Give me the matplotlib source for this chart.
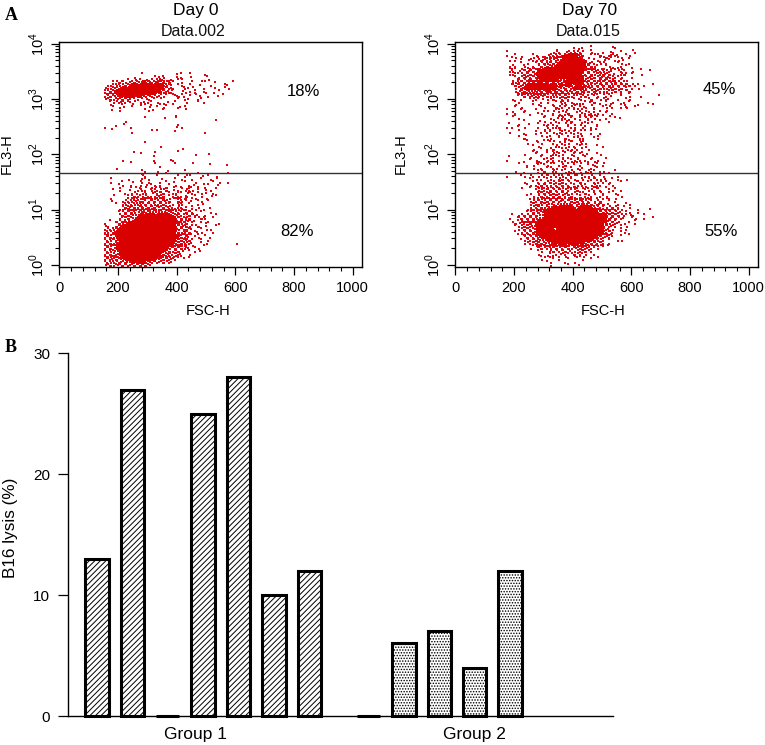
import matplotlib
matplotlib.use("Agg")
import matplotlib.pyplot as plt
from matplotlib.ticker import LogLocator, MultipleLocator, NullFormatter

plt.rcParams["font.family"] = ["Liberation Sans", "DejaVu Sans"]
plt.rcParams["mathtext.fontset"] = "custom"
plt.rcParams["mathtext.rm"] = "Liberation Sans"
plt.rcParams["hatch.linewidth"] = 0.7

W, H = 765, 745

# dot maps, top row first. columns step 10 FSC units,
# rows step 0.05 decades, last row is decade 0.
# . , ' ` ; = one dot somewhere in the cell, : / = two dots, % = nearly full, # = solid
DAY0_X0 = 160
DAY0_MAP = [
    "",
    "            '           .'   `    ,",
    "          ,      `.',   .;   .    '",
    "       ' ,.'  .,:'/.,;. ' `  ;   , .",
    "  ' :/`,.:/%%#/%/%/:,:,`  ,  '    `  .     '",
    " ,/'/,:/%##%####%###//. ' ,  `  .   ,   '.",
    ".,/.:%#%#########%##/:.,  ',. `  ;   .  ' ,",
    "`:/%###############/:.'   .  ,'  ;    '",
    ":/:%#############%.,:'.,  ,.  ',  .  `  ,",
    ",:/.%#%###%#/%/.,:. ,  '.,;  `  .  ,  .",
    ".:,/.:/:.' ,' .,'  `    '  ,.  ;'",
    " ' ,:.:'. ` ,.;'  ,  . '    ,  ' ;",
    "  ,  '   .  ,' ;  ' :  `",
    "  '  ,.  `     . '  ,   ;. `",
    "  .  ,       ' ,.  '       '",
    "",
    "                        ,",
    "             '      .   `",
    "       ,                             '",
    "      .                 ;",
    ",  '                    . ,",
    "  .     '       ,;",
    "         ,             '          ,",
    "",
    "",
    "",
    "             '",
    "                   ,",
    "                          .",
    "         ;       ,      '",
    "            `                  ,   .",
    "                '",
    "      ,         ;     .,",
    "        '        ,     ;      ,",
    "                                   '     .",
    "    ,             '",
    "            ';    ,  .     `",
    "            .,      '   ;   ,  '   ,     '",
    "             ;   '         , `   .    ,",
    "  `     ,   .' ,   .   '  ,  ;  '   , `",
    "  ,  '   .  :  ,  ; '  .   `   ,    '  , ;",
    "    ' , ;   , .' ,;  '  ,   ; .  ' `  .",
    "     ,  ' .;  ` ,.' ;, . ', ;. '  ,  ;",
    "  '  ,  .  ,:; ',: `:, .;  ;: ,'  . ,",
    "      ;  ,:  /, .:':,' ,/'  .: ' ,. ;",
    "   `   ' :,/ ,:; /.:,' ,:; ., '  ,  .'",
    "  ,    ' :' ,/.:,/':, ,.:. / ' ,  ;",
    "  .   ,:'/.:,/ /:,:/.:, ;/,' . ' , `",
    "   '  /,:'//,:/:',/:/' ,'/, '  ; .",
    "      :/.:,/%,:/:/%:/%: ;: . '  ,  ;",
    "     ,/':/%:/%:%:%%/:/%/,,:. ' , ;",
    "    ' :/:/,%%%/%%%%%%/%,:' ;/:  '   ,",
    "     :/:/%%%#%###%####%/.:' :/:.  ,  '",
    "     /':/%%#############/:/.:,' :/, '",
    " '  ,:/,:%##############%/:/.:. ;  ,",
    ",  ':,/%################%/,:,'  ' .   ;",
    "., ;/%##################/:.:,/ :, .  '",
    ",:'/%###################%/:,/.  ' ; ,",
    "/,:%####################:,//:,'. ,  ;",
    ":,/%####################/:.:/. '  ,",
    "/:,/#####################:,/. ' ,  ;",
    ":'/:%###################/:/.:/  '  ,",
    "/:,/%##################%/:/,:.  ' ;          ,",
    ":,/%##################/:.:,/  ,  '",
    "/:,%#################%/:/:,/. ' ,",
    ":'/.%###############%:,/:,. ' ; .",
    "/:,:%##############:/.:':.   ,",
    ":,/:.%############%:'/,.:'  ;",
    "/:.:/%%##########%.:/:.:  '",
    ":'/,:.:%%#%###/%/:.:,:.",
    ".:,/.:/:.:/:/:/.",
]

DAY70_X0 = 180
DAY70_MAP = [
    "                            '       ,",
    "                 ,    ' .'  ;       '      ,",
    "`               ,:  .:',: `  ,  ;  ., '    ;",
    ", '     ' ,   .:',:/%###%:, ' `:, ;.:.  ' ,",
    " ' , `   ,. .:',:/%#####/:  ,  ' :,. ' , ;",
    " ,; '  .: ,:.:',:%%######%., ' , .' ; ,.",
    "    '  , ' ,://:/%#########:.: ',:   ' , ;",
    " ,:  ', ;  :,:/%%##########/:,/  ' ,  ; '",
    " :'  , :':.%%#############/:.:, ., .:' ,  '  ;",
    " /, .':.:,%###############/:,:.:',:.  :'   ,    '",
    " ,/' :/:,%###############/:':,/::.:,. ;:/ '   ,",
    "  ' ,:.:':%############%##,:.:,:.:.,:' ,  ;",
    "  ,':,:.:,:%#####%%%%#####,:':,/:.:,: '  ,",
    "  ,/,:/.:/%#/%/:/%:%#####//.:,:',:/.:,:'",
    " ':/:%%#######%##/#%##/%#/%//,:/%/://:/:/:,:' ;  '",
    "   ,:%####%######/%%,:%###//.:,:/,/.:,:,' ;  ,",
    "   ,.:/%%%/%/%#/%/%/%%/:,:.:,:.: ,/':,: ':,",
    "   ',:///:,/:/,:.:/:/,:.:,.  ,:' ,:'  ;  '",
    "   ' :,:.:'/.:,//,:/:,/' ,:/ ' , ; .  '   ,  ;     '",
    "  , ;  ' :' . ,:, :': ' .,  :,' ,:.  ;  ' ,",
    "  ' ,   '  ;  , ' .:' ,   ' .:,  '  ,  ; '      ,",
    "   ,    '  ,   ;  ' , '/' `  , ' ; .  ' ,   ;    '",
    "  '  ,     ' ,  :,:' ,: ' ., ;  ' ,:  ; ., '",
    "`   ' ,  '  ; , /' ,. ' :' , ' ;  ,",
    ", :  '    . ,  ; '  :, ' .; :' , ' ;",
    "  /    '     , ' ;:' :, ' ; :,: '  ,",
    "    ,       '  , .;: ' ,'  :' ,  ;  ' .",
    "     '     . ,  : ' .:, ' ;' , '  ;",
    "'   ,  .  ' ; ,: '  :' , / '  ;",
    ",  '  ,      ' ; :, '  ,  ' ; '",
    " '  ,     '  ,: ' ,; ' , ,: ; .",
    " ,       ' ; :' , / ,:' ,",
    "    ,'.  '  , ;  :' ; ' ,:  '  /",
    "     ;,      ' , ' ;, ' : ,  ' ,",
    "      '   , ' : ,  ; :, ' ,",
    "       ,  ' ,  ;  :' , ; : ,",
    "        '  ,    ;: ' ,; '  ,  ' ;",
    "         , ' ; :, ' : ,: '  ,",
    "        ' ,  ; ' , : ' , ;",
    "      ,  '  ,  ;:' ,  / ' ,.  ' ,",
    "'       ,  ' ; : ' ,; ' , '  ,   ;",
    ",      '  , ' ,: ; : ' ,: ; '  ,",
    "    ,'    ,: ' /, ' ; :' , '  :  ,",
    "      ;  ,' ' ,  ; :, ' ;  ' ., ;",
    "      '  , ; ' : , : '  ,.  ; '",
    "   ,      ' :, ;: '  ,: '  ,:' ; ,  '",
    "     '  , '  :, ' ; :' , : ' , ;  '",
    ",   ' , ;  ,:' ,:' , : '  ; ,: ' ,   ;",
    "       '  ,; ' , ;:,:' , ', :': ,. ' ;   ,",
    "      , ' ;  ,:,:':, : ':, ' ; ,:' ,  '",
    "      ' ,; :/: ,:':,: ' ,:'  ,:;  ' ,",
    "     , '  .,: ,: : ,;:':  ,: ':, '  ;",
    "         ' ,:':,:':,:' :, ' ,: ;  ' , ;",
    "        , '/:/.:,:':. ,:' :, ', : '  ,",
    "      '  , :,:':/:,:':, ' ; :  ;' ,  ' ,",
    "       ; ,' //./:.:' :,:':,// ' ; :  ,",
    "        ,:':,:/:/:%:':,:/%,:' ,:, ' ;",
    "        /:,//:%%,%%%%%/:%%%%:,:.:,.  ;  ' ,",
    "        ,:':,/%%#%####%/%####/,:' ,:,: '  ,",
    "       ,:,:/:%#########%######/:/.:/:' ,    ;   '",
    "      ' :,:/%##################/:/,:,:. ' , ;",
    " '  ,:,:/:,%%#####################/:/:,:' .,  '",
    " , ':,:/:/,%%#####################:.:,:.  ' , ;  '",
    "  ,' :,:/:%#######################.:' ,  ; '",
    "  :,.:':/:%######################:,/:.  ,' ;",
    "  ' ,:/:.%#######################/:.: '  ,",
    "    ,:/:'%###%##,################:. , ' ;",
    "  '  ,:':%#######################:':  ' ,",
    "   ' :,:':%#####################/.:.  ;  '",
    "      :,:':%###################/:.:'",
    "    ' ,:':/.%%###############%/,: '  ; ,",
    "      ,:':/:/%%%#%##%###%#%/:/:': ;",
    "        ' ,:':/.:/:/:,:/:':/,:.,: .",
    "        , ':,:'/:,:':,/.:/:.:' ,",
    "          ' , ;:,:':,. ,:':,:",
    "           ,  ' ; .:' :,:' , ;",
    "           ' ,:' ;  ,  :' .    ,",
    "            ,  ' ;  '     , '",
    "             ' ,   ;   ,",
    "               ,    '   .",
]

FSC_STEP = 10
DECADE_STEP = 0.05
GATE = 45

# where a dot sits in its cell, in thirds of a cell (x, y)
SUB_CELL = {".": [(0, 0)], ",": [(-1, -1)], "'": [(1, 1)], "`": [(-1, 1)], ";": [(1, -1)],
            ":": [(-1, 1), (1, -1)], "/": [(-1, -1), (1, 1)]}

X_TICKS = [0, 200, 400, 600, 800, 1000]
Y_TICKS = [1, 10, 100, 1000, 10000]
Y_TICK_LABELS = ["$10^{0}$", "$10^{1}$", "$10^{2}$", "$10^{3}$", "$10^{4}$"]

GROUP1_LYSIS = [13, 27, 0, 25, 28, 10, 12]
GROUP2_LYSIS = [0, 6, 7, 4, 12]
GROUP1_SLOTS = [0, 1, 2, 3, 4, 5, 6]
GROUP2_SLOTS = [7.67, 8.67, 9.67, 10.67, 11.67]
LYSIS_TICKS = [0, 10, 20, 30]

RED = "#dc0410"


def axes_at(fig, left, top, right, bottom):
    return fig.add_axes([left / W, 1 - bottom / H, (right - left) / W, (bottom - top) / H])


def put(fig, x, y, s, **kw):
    kw.setdefault("ha", "center")
    kw.setdefault("va", "center")
    fig.text(x / W, 1 - y / H, s, **kw)


def map_points(rows, x0):
    dots, nearly, solid = ([], []), ([], []), ([], [])
    for i, row in enumerate(rows):
        decade = (len(rows) - 1 - i) * DECADE_STEP
        for c, ch in enumerate(row):
            if ch == " ":
                continue
            if ch in "#%":
                bucket = solid if ch == "#" else nearly
                bucket[0].append(x0 + c * FSC_STEP)
                bucket[1].append(10 ** decade)
                continue
            for dx, dy in SUB_CELL[ch]:
                dots[0].append(x0 + (c + dx / 3) * FSC_STEP)
                dots[1].append(10 ** (decade + dy / 3 * DECADE_STEP))
    return dots, nearly, solid


def dot_panel(ax, rows, x0):
    dots, nearly, solid = map_points(rows, x0)
    ax.scatter(*dots, s=1.3, marker="s", color=RED, linewidths=0, zorder=2)
    ax.scatter(*nearly, s=3.6, marker="s", color=RED, linewidths=0, zorder=2)
    ax.scatter(*solid, s=6.5, marker="s", color="#d90000", linewidths=0, zorder=2)
    ax.set_yscale("log")
    ax.set_xlim(-3, 1030)
    ax.set_ylim(10 ** -0.03, 10 ** 4.03)
    ax.axhline(GATE, color="#333333", lw=1.0, zorder=3)
    ax.set_xticks(X_TICKS)
    ax.xaxis.set_minor_locator(MultipleLocator(40))
    ax.set_yticks(Y_TICKS)
    ax.set_yticklabels(Y_TICK_LABELS, rotation=90, va="center", fontsize=10.5)
    ax.yaxis.set_minor_locator(LogLocator(base=10, subs=range(2, 10), numticks=12))
    ax.yaxis.set_minor_formatter(NullFormatter())
    ax.tick_params(axis="both", which="major", length=5.5, width=0.9, labelsize=10.5)
    ax.tick_params(axis="both", which="minor", length=3, width=0.8)
    ax.tick_params(axis="x", pad=5)
    ax.tick_params(axis="y", pad=3)
    for sp in ax.spines.values():
        sp.set_linewidth(1.0)


fig = plt.figure(figsize=(W / 100, H / 100), dpi=100)

ax0 = axes_at(fig, 58.5, 42, 361.5, 266.5)
dot_panel(ax0, DAY0_MAP, DAY0_X0)
ax70 = axes_at(fig, 454.5, 42, 757.5, 266.5)
dot_panel(ax70, DAY70_MAP, DAY70_X0)

put(fig, 196, 10, "Day 0", fontsize=12.5)
put(fig, 193, 32, "Data.002", fontsize=11.5, color="#111111")
put(fig, 590, 10, "Day 70", fontsize=12.5)
put(fig, 588, 32, "Data.015", fontsize=11.5, color="#111111")
put(fig, 208, 311, "FSC-H", fontsize=10.5)
put(fig, 603, 311, "FSC-H", fontsize=10.5)
put(fig, 7, 154, "FL3-H", fontsize=10.5, rotation=90)
put(fig, 401, 154, "FL3-H", fontsize=10.5, rotation=90)
put(fig, 303, 91, "18%", fontsize=12)
put(fig, 297, 231, "82%", fontsize=12)
put(fig, 719, 90, "45%", fontsize=12)
put(fig, 721, 231, "55%", fontsize=12)
put(fig, 11, 15, "A", fontsize=13, family="Liberation Serif", fontweight="bold")
put(fig, 11, 348, "B", fontsize=13, family="Liberation Serif", fontweight="bold")

axb = axes_at(fig, 67.7, 353.3, 613, 716)
axb.bar(GROUP1_SLOTS, GROUP1_LYSIS, width=0.66, facecolor="white", edgecolor="black",
        linewidth=2.2, hatch="//////", zorder=2)
axb.bar(GROUP2_SLOTS, GROUP2_LYSIS, width=0.66, facecolor="white", edgecolor="black",
        linewidth=2.2, hatch="......", zorder=2)
axb.set_xlim(-0.828, 14.58)
axb.set_ylim(0, 30)
axb.set_yticks(LYSIS_TICKS)
axb.set_xticks([])
axb.tick_params(axis="y", length=7.5, width=0.9, labelsize=11, pad=5)
axb.spines["top"].set_visible(False)
axb.spines["right"].set_visible(False)
axb.patch.set_alpha(0)
for sp in axb.spines.values():
    sp.set_linewidth(1.0)
    sp.set_zorder(1)
for p in axb.patches:
    p.set_clip_on(False)

put(fig, 195, 734, "Group 1", fontsize=12.5)
put(fig, 474, 735, "Group 2", fontsize=12.5)
put(fig, 11, 528, "B16 lysis (%)", fontsize=12.3, rotation=90)

fig.savefig("out.png", dpi=100)
plt.close(fig)
